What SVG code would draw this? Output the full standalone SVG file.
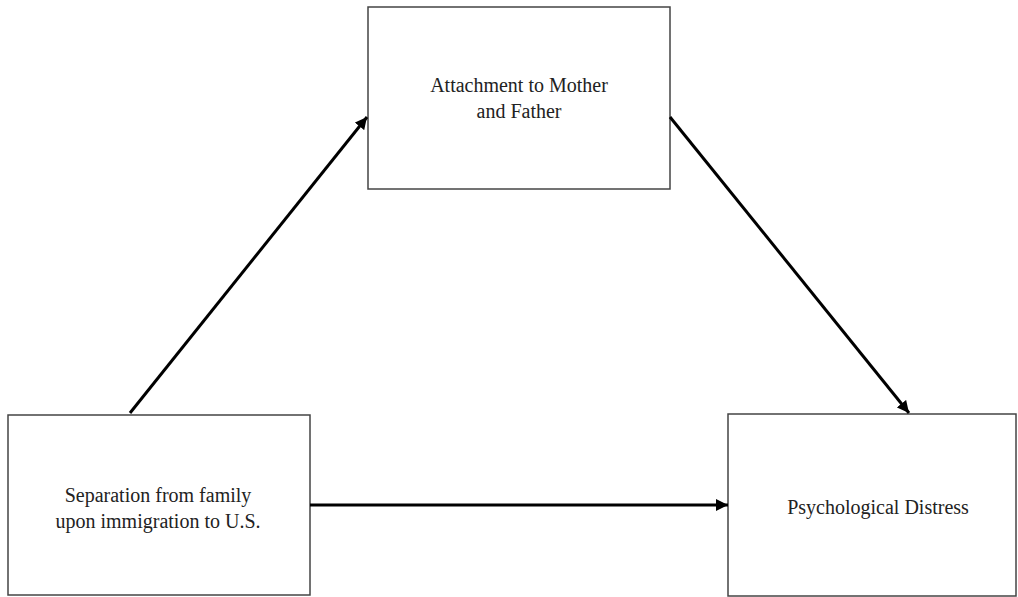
<svg xmlns="http://www.w3.org/2000/svg" width="1018" height="597" viewBox="0 0 1018 597">
<style>
.box{fill:#fff;stroke:#444;stroke-width:1.5}
.lbl{font-family:"Liberation Serif","Times New Roman",serif;font-size:20px;fill:#222;text-anchor:middle}
.conn{stroke:#000;stroke-width:3;fill:none}
</style>
<defs>
<marker id="ah" viewBox="0 0 10 10" refX="10" refY="5" markerWidth="4" markerHeight="4" orient="auto" markerUnits="strokeWidth">
<path d="M0,0 L10,5 L0,10 Z" fill="#000"/>
</marker>
</defs>
<rect width="1018" height="597" fill="#fff"/>
<g id="node-attachment">
<rect class="box" x="368" y="7" width="302" height="182"/>
<text class="lbl" x="519" y="92">Attachment to Mother</text>
<text class="lbl" x="519" y="118">and Father</text>
</g>
<g id="node-separation">
<rect class="box" x="8" y="415" width="302" height="180"/>
<text class="lbl" x="158" y="502">Separation from family</text>
<text class="lbl" x="158" y="528">upon immigration to U.S.</text>
</g>
<g id="node-distress">
<rect class="box" x="728" y="414" width="288" height="182"/>
<text class="lbl" x="878" y="514">Psychological Distress</text>
</g>
<g id="connectors">
<line class="conn" x1="130" y1="413" x2="367" y2="117" marker-end="url(#ah)"/>
<line class="conn" x1="670" y1="117" x2="909" y2="413" marker-end="url(#ah)"/>
<line class="conn" x1="310" y1="505" x2="728" y2="505" marker-end="url(#ah)"/>
</g>
</svg>
